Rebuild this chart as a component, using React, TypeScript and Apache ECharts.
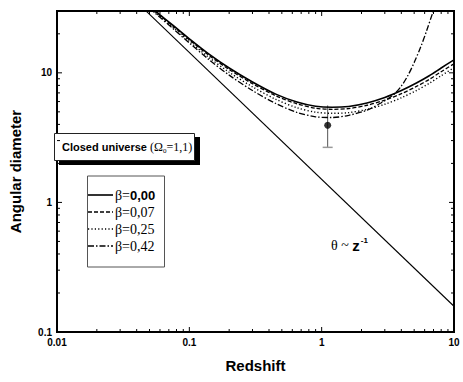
import React, { useEffect, useRef } from "react";
import * as echarts from "echarts";

const SANS = '"Liberation Sans", Arial, Helvetica, sans-serif';
const SERIF = '"Liberation Serif", "Times New Roman", Times, serif';

// Redshift grid for the beta = 0.00 / 0.07 / 0.25 curves
const REDSHIFT = [0.05, 0.06, 0.075, 0.1, 0.14, 0.2, 0.3, 0.45, 0.65, 0.9, 1.2, 1.6, 2.2, 3, 4, 5.2, 6.5, 8, 10];
const THETA_B000 = [33, 28, 23.3, 18.3, 14.0, 10.9, 8.5, 6.85, 5.95, 5.52, 5.42, 5.5, 5.85, 6.45, 7.3, 8.35, 9.5, 10.9, 12.6];
const THETA_B007 = [32.5, 27.7, 23.0, 18.0, 13.7, 10.6, 8.25, 6.65, 5.77, 5.33, 5.23, 5.3, 5.62, 6.15, 6.9, 7.85, 8.9, 10.2, 11.75];
const THETA_B025 = [32, 27.3, 22.5, 17.5, 13.2, 10.1, 7.8, 6.25, 5.38, 4.97, 4.87, 4.93, 5.22, 5.72, 6.42, 7.3, 8.3, 9.5, 10.95];
// beta = 0.42 curve
const REDSHIFT_B042 = [0.05, 0.06, 0.075, 0.1, 0.14, 0.2, 0.3, 0.45, 0.65, 0.9, 1.2, 1.6, 2.2, 2.8, 3.5, 4.0, 4.5, 5.0, 5.6, 6.2, 6.9, 7.3];
const THETA_B042 = [31.5, 26.8, 22.0, 17.0, 12.7, 9.6, 7.3, 5.8, 4.95, 4.58, 4.52, 4.7, 5.15, 5.85, 6.8, 7.9, 9.6, 12.0, 15.8, 21, 29, 34];
// theta ~ z^-1 reference line
const POWER_Z = [0.047, 10];
const POWER_THETA = [30.1, 0.158];
// observed point with error bar
const OBS_Z = [1.11];
const OBS_THETA = [3.94];
const OBS_LOW = [2.66];
const OBS_HIGH = [5.6];

const LEGEND_LABELS = ["β=0,00", "β=0,07", "β=0,25", "β=0,42"];
const X_LABELS = ["0.01", "0.1", "1", "10"];
const Y_LABELS = ["0.1", "1", "10"];
const X_MAJOR_TICKS = [0.01, 0.1, 1, 10];
const X_MINOR_TICKS = [0.02, 0.03, 0.04, 0.05, 0.06, 0.07, 0.08, 0.09, 0.2, 0.3, 0.4, 0.5, 0.6, 0.7, 0.8, 0.9, 2, 3, 4, 5, 6, 7, 8, 9];
const Y_MAJOR_TICKS = [0.1, 1, 10];
const Y_MINOR_TICKS = [0.2, 0.3, 0.4, 0.5, 0.6, 0.7, 0.8, 0.9, 2, 3, 4, 5, 6, 7, 8, 9, 20];

const X_MIN = 0.01, X_MAX = 10, Y_MIN = 0.1, Y_MAX = 30;

const DASHES: (number[] | "solid")[] = ["solid", [4, 2], [1.2, 2.2], [6, 2, 1.5, 2]];
const WIDTHS = [1.6, 1.3, 1.4, 1.3];

function zip(a: number[], b: number[]) {
  return a.map((v, i) => [v, b[i]]);
}

function labelFor(list: string[], v: number) {
  const f = list.find((l) => Math.abs(parseFloat(l) - v) / v < 1e-6);
  return f ?? "";
}

export default function App() {
  const ref = useRef<HTMLDivElement>(null);
  useEffect(() => {
    document.body.style.margin = "0";
    if (!ref.current) return;
    const chart = echarts.init(ref.current, undefined, { renderer: "svg" });

    const tickData: number[][] = [];
    X_MAJOR_TICKS.forEach((v) => tickData.push([v, Y_MIN, 1, 0]));
    X_MINOR_TICKS.forEach((v) => tickData.push([v, Y_MIN, 0, 0]));
    Y_MAJOR_TICKS.forEach((v) => tickData.push([X_MIN, v, 1, 1]));
    Y_MINOR_TICKS.forEach((v) => tickData.push([X_MIN, v, 0, 1]));

    const curves = [
      zip(REDSHIFT, THETA_B000),
      zip(REDSHIFT, THETA_B007),
      zip(REDSHIFT, THETA_B025),
      zip(REDSHIFT_B042, THETA_B042),
    ];

    const legendRows = [195, 212, 229, 246];

    const option: any = {
      animation: false,
      backgroundColor: "#fff",
      grid: {
        left: 44,
        right: 9,
        top: 11,
        bottom: 50,
        show: true,
        borderColor: "#000",
        borderWidth: 2,
        backgroundColor: "transparent",
      },
      xAxis: {
        type: "log",
        logBase: 10,
        min: X_MIN,
        max: X_MAX,
        axisLine: { show: false },
        axisTick: { show: false },
        splitLine: { show: false },
        axisLabel: {
          margin: 5,
          color: "#000",
          fontFamily: SANS,
          fontWeight: "bold",
          fontSize: 10,
          formatter: (v: number) => labelFor(X_LABELS, v),
        },
        name: "Redshift",
        nameLocation: "middle",
        nameGap: 26,
        nameTextStyle: { color: "#000", fontFamily: SANS, fontWeight: "bold", fontSize: 15 },
      },
      yAxis: {
        type: "log",
        logBase: 10,
        min: Y_MIN,
        max: Y_MAX,
        axisLine: { show: false },
        axisTick: { show: false },
        splitLine: { show: false },
        axisLabel: {
          margin: 5,
          color: "#000",
          fontFamily: SANS,
          fontWeight: "bold",
          fontSize: 10,
          formatter: (v: number) => labelFor(Y_LABELS, v),
        },
        name: "Angular diameter",
        nameLocation: "middle",
        nameGap: 34,
        nameTextStyle: { color: "#000", fontFamily: SANS, fontWeight: "bold", fontSize: 15 },
      },
      series: [
        {
          type: "line",
          data: zip(POWER_Z, POWER_THETA),
          showSymbol: false,
          silent: true,
          lineStyle: { color: "#000", width: 1.1, type: "solid" },
        },
        ...curves.map((d, i) => ({
          type: "line",
          data: d,
          showSymbol: false,
          silent: true,
          smooth: 0.3,
          lineStyle: { color: "#000", width: WIDTHS[i], type: DASHES[i] },
        })),
        {
          type: "custom",
          silent: true,
          data: OBS_Z.map((z, i) => [z, OBS_LOW[i], OBS_HIGH[i]]),
          encode: { x: 0, y: [1, 2] },
          renderItem: (params: any, api: any) => {
            const lo = api.coord([api.value(0), api.value(1)]);
            const hi = api.coord([api.value(0), api.value(2)]);
            return {
              type: "group",
              children: [
                { type: "line", shape: { x1: lo[0], y1: lo[1], x2: hi[0], y2: hi[1] }, style: { stroke: "#555", lineWidth: 1 } },
                { type: "line", shape: { x1: lo[0] - 5, y1: lo[1], x2: lo[0] + 5, y2: lo[1] }, style: { stroke: "#999", lineWidth: 1.5 } },
              ],
            };
          },
        },
        {
          type: "scatter",
          data: zip(OBS_Z, OBS_THETA),
          symbol: "circle",
          symbolSize: 7,
          silent: true,
          itemStyle: { color: "#000" },
        },
        {
          type: "custom",
          silent: true,
          clip: false,
          data: tickData,
          encode: { x: 0, y: 1 },
          renderItem: (params: any, api: any) => {
            const major = api.value(2) === 1;
            const axis = api.value(3);
            const len = major ? 5 : 3;
            const st = { stroke: "#000", lineWidth: 1 };
            if (axis === 0) {
              const v = api.value(0);
              const b = api.coord([v, Y_MIN]);
              const t = api.coord([v, Y_MAX]);
              return {
                type: "group",
                children: [
                  { type: "line", shape: { x1: b[0], y1: b[1], x2: b[0], y2: b[1] - len }, style: st },
                  { type: "line", shape: { x1: t[0], y1: t[1], x2: t[0], y2: t[1] + len }, style: st },
                ],
              };
            }
            const v = api.value(1);
            const l = api.coord([X_MIN, v]);
            const r = api.coord([X_MAX, v]);
            return {
              type: "group",
              children: [
                { type: "line", shape: { x1: l[0], y1: l[1], x2: l[0] + len, y2: l[1] }, style: st },
                { type: "line", shape: { x1: r[0], y1: r[1], x2: r[0] - len, y2: r[1] }, style: st },
              ],
            };
          },
        },
      ],
      graphic: [
        { type: "rect", shape: { x: 59, y: 137, width: 141, height: 28 }, style: { fill: "#000" } },
        { type: "rect", shape: { x: 54.5, y: 133.5, width: 140, height: 27 }, style: { fill: "#fff", stroke: "#222", lineWidth: 1 } },
        {
          type: "text",
          x: 62,
          y: 147,
          style: {
            text: "{a|Closed universe }{b|(Ω}{c|0}{b|=1,1)}",
            verticalAlign: "middle",
            rich: {
              a: { fontFamily: SANS, fontWeight: "bold", fontSize: 11, fill: "#000", color: "#000" },
              b: { fontFamily: SERIF, fontSize: 12, fill: "#000", color: "#000" },
              c: { fontFamily: SERIF, fontSize: 7, fill: "#000", color: "#000", padding: [7, 0, 0, 0] },
            },
          },
        },
        { type: "rect", shape: { x: 87.5, y: 176, width: 77, height: 91 }, style: { fill: "none", stroke: "#555", lineWidth: 1 } },
        ...LEGEND_LABELS.map((lab, i) => ({
          type: "line",
          shape: { x1: 88, y1: legendRows[i], x2: 113, y2: legendRows[i] },
          style: { stroke: "#000", lineWidth: WIDTHS[i], lineDash: DASHES[i] === "solid" ? null : DASHES[i] },
        })),
        ...LEGEND_LABELS.map((lab, i) => ({
          type: "text",
          x: 115,
          y: legendRows[i],
          style: {
            text: i === 0 ? "{a|" + lab.slice(0, 2) + "}{b|" + lab.slice(2) + "}" : "{a|" + lab + "}",
            verticalAlign: "middle",
            rich: {
              a: { fontFamily: SERIF, fontSize: 14, fill: "#000", color: "#000" },
              b: { fontFamily: SANS, fontWeight: "bold", fontSize: 13, fill: "#000", color: "#000" },
            },
          },
        })),
        {
          type: "text",
          x: 331,
          y: 245,
          style: {
            text: "{t|θ ~ }{z|z}{s|-1}",
            verticalAlign: "middle",
            rich: {
              t: { fontFamily: SERIF, fontSize: 14, fill: "#000", color: "#000" },
              z: { fontFamily: SANS, fontWeight: "bold", fontSize: 15, fill: "#000", color: "#000" },
              s: { fontFamily: SANS, fontWeight: "bold", fontSize: 8, fill: "#000", color: "#000", padding: [0, 0, 9, 1] },
            },
          },
        },
      ],
    };

    chart.setOption(option);
    return () => chart.dispose();
  }, []);

  return <div ref={ref} style={{ width: 463, height: 382 }} />;
}
